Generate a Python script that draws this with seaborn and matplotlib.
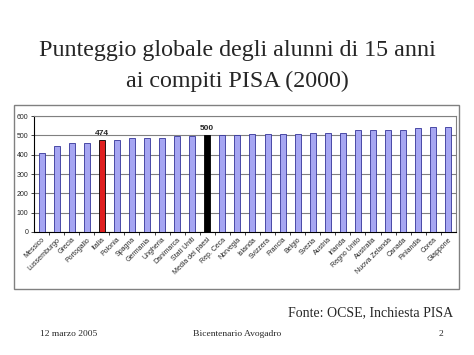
import matplotlib
matplotlib.use("Agg")
import matplotlib.pyplot as plt
import seaborn as sns
import pandas as pd
from matplotlib.patches import Rectangle

paesi = ["Messico", "Lussemburgo", "Grecia", "Portogallo", "Italia", "Polonia",
         "Spagna", "Germania", "Ungheria", "Danimarca", "Stati Uniti",
         "Media dei paesi", "Rep. Ceca", "Norvegia", "Islanda", "Svizzera",
         "Francia", "Belgio", "Svezia", "Austria", "Irlanda", "Regno Unito",
         "Australia", "Nuova Zelanda", "Canada", "Finlandia", "Corea", "Giappone"]
punteggi = [410, 443, 459, 459, 474, 478, 488, 488, 488, 498, 499, 500, 500,
            500, 505, 505, 505, 505, 512, 515, 515, 526, 526, 529, 529, 538,
            541, 541]
evidenziati = {"Italia": "#FF0000", "Media dei paesi": "#000000"}
yTicks = [0, 100, 200, 300, 400, 500, 600]

dataFrame = pd.DataFrame({"Paese": paesi, "Punteggio": punteggi})
palette = {p: evidenziati.get(p, "#9999FF") for p in paesi}

sns.set_style("white")
plt.rcParams["font.family"] = ["Liberation Sans", "DejaVu Sans"]

fig = plt.figure(figsize=(4.74, 3.55), dpi=100)
fig.patches.append(Rectangle((0.0295, 0.186), 0.939, 0.518, transform=fig.transFigure,
                             facecolor="white", edgecolor="#808080", linewidth=1.0,
                             zorder=-1))
ax = fig.add_axes([0.0717, 0.3465, 0.890, 0.3265])
ax.set_zorder(1)

sns.barplot(data=dataFrame, x="Paese", y="Punteggio", hue="Paese", palette=palette,
            width=0.4, edgecolor="#333399", linewidth=0.6, legend=False, ax=ax,
            zorder=3)
for bar, p in zip(ax.patches, paesi):
    if p in evidenziati:
        bar.set_edgecolor("#000000")

ax.set_xlim(-0.5, len(paesi) - 0.5)
ax.set_ylim(0, 600)
ax.set_yticks(yTicks)
ax.grid(axis="y", color="#808080", linewidth=0.8, zorder=0)
ax.set_axisbelow(True)
for side in ["top", "right"]:
    ax.spines[side].set_color("#808080")
    ax.spines[side].set_linewidth(0.8)
for side in ["left", "bottom"]:
    ax.spines[side].set_color("#000000")
    ax.spines[side].set_linewidth(0.8)
ax.set_xlabel("")
ax.set_ylabel("")
ax.tick_params(axis="y", labelsize=5, length=2, width=0.6, pad=2, left=True)
ax.set_xticks(range(len(paesi)))
ax.set_xticklabels(paesi, rotation=45, ha="right", rotation_mode="anchor", fontsize=5)
ax.tick_params(axis="x", length=0, pad=3)
ax.set_xticks([i + 0.5 for i in range(len(paesi) - 1)], minor=True)
ax.tick_params(axis="x", which="minor", length=2, width=0.6, bottom=True)

for i, p in enumerate(paesi):
    if p in evidenziati:
        ax.text(i, punteggi[i] + 16, str(punteggi[i]), ha="center", va="bottom",
                fontsize=6, fontweight="bold")

serif = ["Liberation Serif", "DejaVu Serif"]
fig.text(0.5, 0.858, "Punteggio globale degli alunni di 15 anni", ha="center",
         va="center", fontsize=17.3, family=serif)
fig.text(0.5, 0.772, "ai compiti PISA (2000)", ha="center", va="center",
         fontsize=17.3, family=serif)
fig.text(0.955, 0.12, "Fonte: OCSE, Inchiesta PISA", ha="right", va="center",
         fontsize=10, family=serif)
fig.text(0.085, 0.058, "12 marzo 2005", ha="left", va="center", fontsize=6.8,
         family=serif)
fig.text(0.5, 0.058, "Bicentenario Avogadro", ha="center", va="center",
         fontsize=6.8, family=serif)
fig.text(0.93, 0.058, "2", ha="center", va="center", fontsize=6.8, family=serif)

fig.savefig("out.png", dpi=100)
